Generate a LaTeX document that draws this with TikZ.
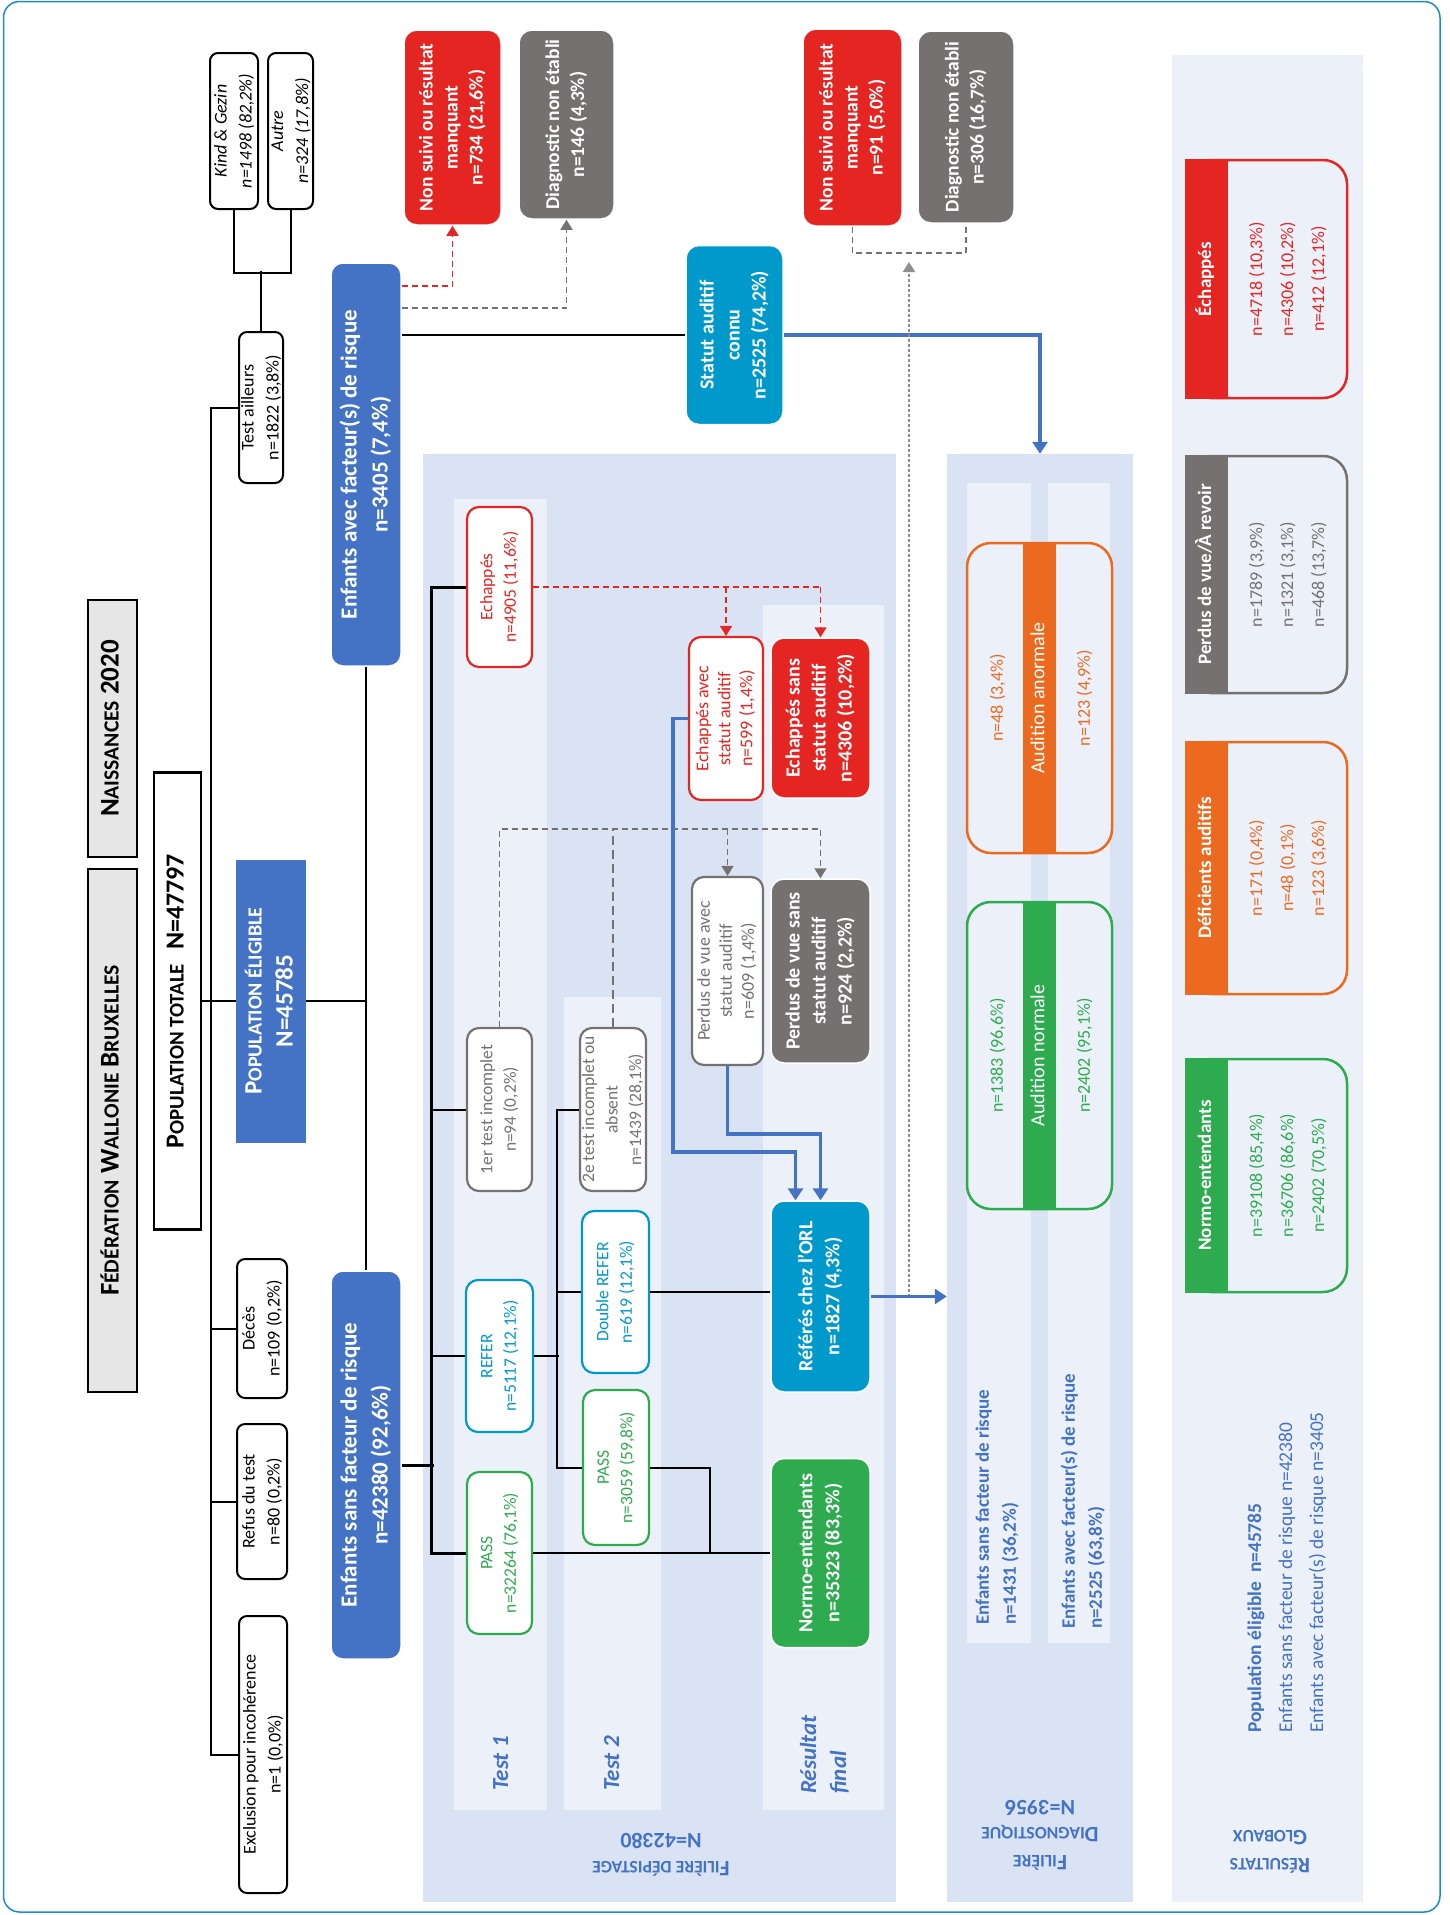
\documentclass[tikz,border=0pt]{standalone}
\usepackage{fontspec}
\setmainfont{Carlito}
\usepackage{graphicx}
\usetikzlibrary{arrows.meta}

\definecolor{fwbblue}{HTML}{4472C4}
\definecolor{cyanbox}{HTML}{0099CC}
\definecolor{redbox}{HTML}{E42522}
\definecolor{graybox}{HTML}{767171}
\definecolor{greenbox}{HTML}{2EAA4F}
\definecolor{orangebox}{HTML}{EB6A1F}
\definecolor{hdrgray}{HTML}{E7E6E6}
\definecolor{bandblue}{HTML}{DAE3F3}
\definecolor{bandlight}{HTML}{ECF1F9}
\definecolor{framec}{HTML}{1D8ACB}

\newcommand\rottext[1]{\makebox[0pt]{\rotatebox{90}{\begin{tabular}{@{}c@{}}#1\end{tabular}}}}
\newcommand\rotleft[1]{\rotatebox{90}{\begin{tabular}{@{}l@{}}#1\end{tabular}}}
\newcommand\flipped[1]{\rotatebox{180}{\begin{tabular}{@{}c@{}}#1\end{tabular}}}
\newcommand\smcap[1]{\scalebox{0.8}{#1}}
\newcommand\fsz[2]{\fontsize{#1}{#2}\selectfont}

\begin{document}
\begin{tikzpicture}[x=1pt,y=-1pt,
  conn/.style={line width=2pt},
  trunk/.style={line width=3pt},
  hdr/.style={draw,line width=2.5pt,fill=hdrgray,inner sep=0pt,font=\bfseries\fsz{27}{30}},
  wbox/.style={draw,line width=2pt,rounded corners=8pt,fill=white,inner sep=0pt,font=\fsz{18}{25}},
  fullbox/.style={fill=#1,draw=white,line width=1.5pt,rounded corners=13pt,text=white,inner sep=0pt,font=\bfseries\fsz{19.5}{25}},
  edgebox/.style={draw=#1,text=#1,fill=white,line width=2.2pt,rounded corners=12pt,inner sep=0pt,font=\fsz{17.5}{23.5}},
  bandbox/.style={fill=#1,inner sep=0pt},
  headed/.style={-{Triangle[width=12pt,length=10pt]}},
  reddash/.style={draw=redbox,line width=1.5pt,dash pattern=on 6pt off 4pt},
  graydash/.style={draw=graybox,line width=1.5pt,dash pattern=on 6pt off 4pt},
  graydash2/.style={draw=graybox,line width=2pt,dash pattern=on 9pt off 5pt},
  graydot/.style={draw=graybox!80,line width=2pt,dash pattern=on 2.5pt off 2.5pt},
  bluearr/.style={draw=fwbblue,line width=3.5pt,-{Triangle[width=15pt,length=12pt]}},
  colhead/.style={text=fwbblue,font=\bfseries\itshape\fsz{23}{30},inner sep=0pt,anchor=south},
  bandlab/.style={text=fwbblue,font=\bfseries\fsz{22}{27.5}},
  resbox/.style={draw=#1,line width=2.5pt,rounded corners=24pt,minimum width=160pt,inner sep=0pt},
  resstrip/.style={fill=#1,text=white,minimum width=43pt,inner sep=0pt,anchor=west,font=\bfseries\fsz{19}{24}},
  resnum/.style={text=#1,font=\fsz{18}{31}},
  audbox/.style={draw=#1,fill=bandlight,line width=2.5pt,rounded corners=24pt,minimum width=145pt,inner sep=0pt},
  audstrip/.style={fill=#1,text=white,minimum width=33pt,inner sep=0pt,font=\fsz{20}{24}},
  audnum/.style={text=#1,font=\fsz{18}{24}}
]
\useasboundingbox (0,0) rectangle (1449,1915);
\draw[framec,line width=1.5pt,rounded corners=16pt] (3.5,1.5) rectangle (1440,1912);

\node[bandbox=bandblue,minimum width=473pt,minimum height=1448pt] (fdep) at (659.5,1178) {};
\node[bandbox=bandblue,minimum width=186pt,minimum height=1448pt] (fdiag) at (1040,1178) {};
\node[bandbox=bandlight,minimum width=191pt,minimum height=1847pt] (resg) at (1267.5,978.5) {};
\node[bandbox=bandlight,minimum width=93pt,minimum height=1311pt] (t1col) at (500.5,1154.5) {};
\node[bandbox=bandlight,minimum width=97pt,minimum height=813pt] (t2col) at (612.5,1403.5) {};
\node[bandbox=bandlight,minimum width=121pt,minimum height=1205pt] (rfcol) at (823.5,1207.5) {};
\node[bandbox=bandlight,minimum width=64pt,minimum height=1160pt] (dcol1) at (999,1063) {};
\node[bandbox=bandlight,minimum width=62pt,minimum height=1160pt] (dcol2) at (1079,1063) {};

\node[hdr,minimum width=49pt,minimum height=257pt] (nais) at (112.5,728.5) {\rottext{N\smcap{AISSANCES} 2020}};
\node[hdr,minimum width=49pt,minimum height=523pt] (fwb) at (112.5,1130.5) {\rottext{F\smcap{ÉDÉRATION} W\smcap{ALLONIE} B\smcap{RUXELLES}}};
\node[hdr,fill=white,minimum width=47pt,minimum height=457pt,font=\bfseries\fsz{26}{30}] (poptot) at (177.5,1001) {\rottext{P\smcap{OPULATION TOTALE}\hspace{14pt}N=47797}};
\node[fill=fwbblue,text=white,inner sep=0pt,minimum width=70pt,minimum height=283pt,font=\bfseries\fsz{25}{31}] (popelig) at (271,1001) {\rottext{P\smcap{OPULATION ÉLIGIBLE}\\N=45785}};

\node[wbox,minimum width=48pt,minimum height=156pt,font=\itshape\fsz{18}{25}] (kg) at (234,131) {\rottext{Kind \& Gezin\\n=1498 (82,2\%)}};
\node[wbox,minimum width=45pt,minimum height=156pt,font=\itshape\fsz{18}{25}] (autre) at (290.5,131) {\rottext{Autre\\n=324 (17,8\%)}};
\node[wbox,minimum width=44pt,minimum height=151pt] (tail) at (261,407.5) {\rottext{Test ailleurs\\n=1822 (3,8\%)}};
\node[wbox,minimum width=50pt,minimum height=139pt] (deces) at (262,1328.5) {\rottext{Décès\\n=109 (0,2\%)}};
\node[wbox,minimum width=50pt,minimum height=155pt] (refus) at (262,1501.5) {\rottext{Refus du test\\n=80 (0,2\%)}};
\node[wbox,minimum width=48pt,minimum height=277pt] (excl) at (263,1754.5) {\rottext{Exclusion pour incohérence\\n=1 (0,0\%)}};

\node[fullbox=fwbblue,rounded corners=12pt,minimum width=70pt,minimum height=403pt,font=\bfseries\fsz{23}{31}] (eav) at (366,464.5) {\rottext{Enfants avec facteur(s) de risque\\n=3405 (7,4\%)}};
\node[fullbox=fwbblue,rounded corners=12pt,minimum width=70pt,minimum height=388pt,font=\bfseries\fsz{23}{31}] (esa) at (366,1465) {\rottext{Enfants sans facteur de risque\\n=42380 (92,6\%)}};

\node[fullbox=redbox,minimum width=97pt,minimum height=195pt] (nsm1) at (452.5,127.5) {\rottext{Non suivi ou résultat\\manquant\\n=734 (21,6\%)}};
\node[fullbox=graybox,minimum width=95pt,minimum height=189pt] (dne1) at (566.5,124.5) {\rottext{Diagnostic non établi\\n=146 (4,3\%)}};
\node[fullbox=cyanbox,minimum width=97pt,minimum height=179pt,font=\bfseries\fsz{20}{26}] (sac) at (734.5,335) {\rottext{Statut auditif\\connu\\n=2525 (74,2\%)}};
\node[fullbox=redbox,minimum width=99pt,minimum height=197pt] (nsm2) at (852.5,127.5) {\rottext{Non suivi ou résultat\\manquant\\n=91 (5,0\%)}};
\node[fullbox=graybox,minimum width=96pt,minimum height=192pt] (dne2) at (966,127) {\rottext{Diagnostic non établi\\n=306 (16,7\%)}};

\node[edgebox=redbox,minimum width=65pt,minimum height=160pt] (ech) at (499.5,587) {\rottext{Echappés\\n=4905 (11,6\%)}};
\node[edgebox=graybox,minimum width=65pt,minimum height=163pt] (t1inc) at (499.5,1109.5) {\rottext{1er test incomplet\\n=94 (0,2\%)}};
\node[edgebox=cyanbox,minimum width=67pt,minimum height=152pt] (refer) at (499.5,1356) {\rottext{REFER\\n=5117 (12,1\%)}};
\node[edgebox=greenbox,minimum width=65pt,minimum height=162pt] (pass1) at (499.5,1553) {\rottext{PASS\\n=32264 (76,1\%)}};
\node[edgebox=graybox,minimum width=66pt,minimum height=163pt] (t2inc) at (613,1109.5) {\rottext{2e test incomplet ou\\absent\\n=1439 (28,1\%)}};
\node[edgebox=cyanbox,minimum width=67pt,minimum height=162pt] (dref) at (615.5,1292) {\rottext{Double REFER\\n=619 (12,1\%)}};
\node[edgebox=greenbox,minimum width=66pt,minimum height=155pt] (pass2) at (616,1467.5) {\rottext{PASS\\n=3059 (59,8\%)}};
\node[edgebox=redbox,minimum width=74pt,minimum height=163pt,font=\fsz{18}{22}] (echa) at (726,718.5) {\rottext{Echappés avec\\statut auditif\\n=599 (1,4\%)}};
\node[fullbox=redbox,minimum width=99pt,minimum height=160pt,font=\bfseries\fsz{20}{26}] (echs) at (820.5,718) {\rottext{Echappés sans\\statut auditif\\n=4306 (10,2\%)}};
\node[edgebox=graybox,minimum width=71pt,minimum height=188pt,font=\fsz{18}{22}] (pva) at (727.5,971) {\rottext{Perdus de vue avec\\statut auditif\\n=609 (1,4\%)}};
\node[fullbox=graybox,minimum width=99pt,minimum height=184pt,font=\bfseries\fsz{20}{26}] (pvs) at (820.5,971) {\rottext{Perdus de vue sans\\statut auditif\\n=924 (2,2\%)}};
\node[fullbox=cyanbox,minimum width=99pt,minimum height=191pt,font=\bfseries\fsz{20}{27}] (orl) at (820.5,1296.5) {\rottext{Référés chez l'ORL\\n=1827 (4,3\%)}};
\node[fullbox=greenbox,minimum width=99pt,minimum height=189pt,font=\bfseries\fsz{20}{27}] (normo) at (820.5,1553) {\rottext{Normo-entendants\\n=35323 (83,3\%)}};

\node[colhead] (t1lab) at (502,1791) {\rotleft{Test 1}};
\node[colhead] (t2lab) at (613,1791) {\rotleft{Test 2}};
\node[colhead] (rflab) at (825,1794) {\rotleft{Résultat\\final}};
\node[bandlab] (fdlab) at (661,1853) {\flipped{F\smcap{ILIÈRE DÉPISTAGE}\\N=42380}};
\node[bandlab] (fdglab) at (1040,1833) {\flipped{F\smcap{ILIÈRE}\\D\smcap{IAGNOSTIQUE}\\N=3956}};
\node[bandlab] (rglab) at (1270,1850) {\flipped{R\smcap{ÉSULTATS}\\G\smcap{LOBAUX}}};

\node[audbox=orangebox,minimum height=310pt] (aano) at (1039.5,698) {};
\node[audstrip=orangebox,minimum height=307.5pt] (aanos) at (aano.center) {\rottext{Audition anormale}};
\node[audnum=orangebox] (aanol) at (998,698) {\rottext{n=48 (3,4\%)}};
\node[audnum=orangebox] (aanor) at (1085,698) {\rottext{n=123 (4,9\%)}};
\node[audbox=greenbox,minimum height=307pt] (anor) at (1039.5,1055.5) {};
\node[audstrip=greenbox,minimum height=304.5pt] (anors) at (anor.center) {\rottext{Audition normale}};
\node[audnum=greenbox] (anorl) at (998,1055.5) {\rottext{n=1383 (96,6\%)}};
\node[audnum=greenbox] (anorr) at (1085,1055.5) {\rottext{n=2402 (95,1\%)}};
\node[text=fwbblue,font=\bfseries\fsz{19}{27},inner sep=0pt,anchor=south] (d1txt) at (997,1625) {\rotleft{Enfants sans facteur de risque\\n=1431 (36,2\%)}};
\node[text=fwbblue,font=\bfseries\fsz{19}{27},inner sep=0pt,anchor=south] (d2txt) at (1083,1629) {\rotleft{Enfants avec facteur(s) de risque\\n=2525 (63,8\%)}};

\node[resbox=redbox,minimum height=238pt] (rech) at (1267,279) {};
\node[resstrip=redbox,minimum height=240.5pt] (rechs) at ([xshift=-1.25pt]rech.west) {\rottext{Échappés}};
\node[resnum=redbox] (rechn) at (1287,279) {\rottext{n=4718 (10,3\%)\\n=4306 (10,2\%)\\n=412 (12,1\%)}};
\node[resbox=graybox,minimum height=237pt] (rpv) at (1267,574.5) {};
\node[resstrip=graybox,minimum height=239.5pt] (rpvs) at ([xshift=-1.25pt]rpv.west) {\rottext{Perdus de vue/À revoir}};
\node[resnum=graybox] (rpvn) at (1287,574.5) {\rottext{n=1789 (3,9\%)\\n=1321 (3,1\%)\\n=468 (13,7\%)}};
\node[resbox=orangebox,minimum height=252pt] (rdef) at (1267,868) {};
\node[resstrip=orangebox,minimum height=254.5pt] (rdefs) at ([xshift=-1.25pt]rdef.west) {\rottext{Déficients auditifs}};
\node[resnum=orangebox] (rdefn) at (1287,868) {\rottext{n=171 (0,4\%)\\n=48 (0,1\%)\\n=123 (3,6\%)}};
\node[resbox=greenbox,minimum height=233pt] (rnor) at (1267,1175.5) {};
\node[resstrip=greenbox,minimum height=235.5pt] (rnors) at ([xshift=-1.25pt]rnor.west) {\rottext{Normo-entendants}};
\node[resnum=greenbox] (rnorn) at (1287,1175.5) {\rottext{n=39108 (85,4\%)\\n=36706 (86,6\%)\\n=2402 (70,5\%)}};
\node[text=fwbblue,font=\fsz{19.5}{31},inner sep=0pt,anchor=south] (rgtxt) at (1286,1733) {\rotleft{\textbf{Population éligible\ \ n=45785}\\Enfants sans facteur de risque n=42380\\Enfants avec facteur(s) de risque n=3405}};

\draw[conn] (poptot.east) -- (popelig.west);
\draw[conn] (tail.west) -- ++(-27,0) |- (excl.west);
\draw[conn] (deces.west) -- ++(-25,0);
\draw[conn] (refus.west) -- ++(-25,0);
\draw[conn] (tail.north) -- ++(0,-60);
\draw[conn] (kg.south) -- ++(0,63) -| (autre.south);
\draw[conn] (popelig.east) -- (popelig.east -| eav.south);
\draw[conn] (eav.south) -- (esa.north);

\draw[reddash,headed] (eav.east |- 0,286) -| (nsm1.south);
\draw[graydash,headed] (eav.east |- 0,308) -| (dne1.south);
\draw[conn] (eav.east |- sac.west) -- (sac.west);
\draw[bluearr] (sac.east) -| (fdiag.north);
\coordinate (dm) at (909,253);
\draw[graydash] (nsm2.south) |- (dm) -| (dne2.south);
\draw[graydot,headed] (orl.east -| dm) -- ([yshift=-9pt]dm);

\draw[trunk] (esa.east) -- ++(32,0);
\draw[trunk] (ech.west) -- ++(-34,0) |- (pass1.west);
\draw[conn] (t1inc.west) -- ++(-34,0);
\draw[conn] (refer.west) -- ++(-33,0);
\draw[conn] (refer.east) -- ++(25,0);
\draw[conn] (t2inc.west) -- ++(-22,0) |- (pass2.west);
\draw[conn] (dref.west) -- ++(-24,0);
\draw[conn] (dref.east) -- (dref.east -| orl.west);
\draw[conn] (pass1.east) -- (normo.west);
\draw[conn] (pass2.east) -- ++(60,0) |- (normo.west);

\draw[reddash] (ech.east) -- (ech.east -| echs.north);
\draw[reddash,headed] (ech.east -| echa.north) -- (echa.north);
\draw[reddash,headed] (ech.east -| echs.north) -- (echs.north);
\draw[graydash,headed] (t1inc.north) -- ++(0,-198) -| (pvs.north);
\draw[graydash,headed] (pva.north) ++(0,-47) -- (pva.north);
\draw[graydash2] (t2inc.north) -- ++(0,-198);

\draw[bluearr] (echa.west) -- ++(-15,0) -- ++(0,433.5) -| ([xshift=-25pt]orl.north);
\draw[bluearr] (pva.south) -- ++(0,68) -| (orl.north);
\draw[bluearr] (orl.east) -- (orl.east -| fdiag.west);
\end{tikzpicture}
\end{document}
